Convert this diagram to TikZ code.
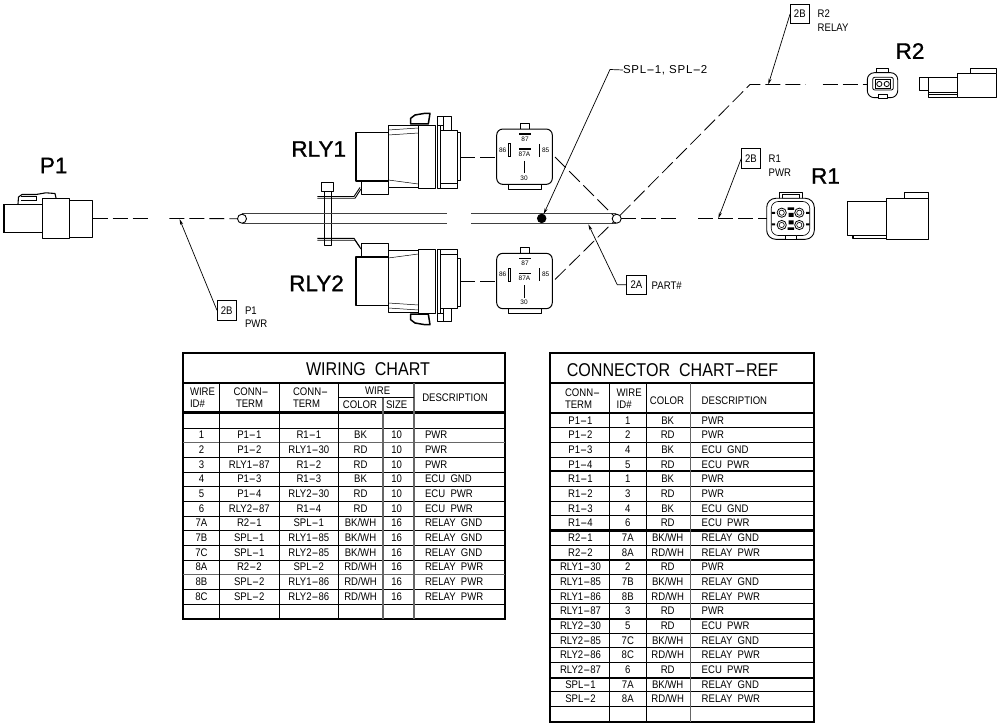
\documentclass[tikz,border=0pt]{standalone}
\usepackage{fontspec}
\usepackage{graphicx}
\setmainfont{Liberation Sans}
\newfontfamily\chartfont[FakeStretch=0.87]{Liberation Sans}
\newfontfamily\bigfont[FakeBold=1]{Liberation Sans}
\newfontfamily\splfont[LetterSpace=7]{Liberation Sans}
\usetikzlibrary{arrows.meta}
\newcommand{\fs}[1]{\fontsize{#1pt}{#1pt}\selectfont}
\newcommand{\hy}{\scalebox{2.2}[1]{-}}
\tikzset{
  every node/.style={inner sep=0pt,outer sep=0pt},
  part/.style={draw=black,line width=0.9pt,fill=white,line join=round},
  thin part/.style={draw=black,line width=0.5pt},
  wire/.style={draw=black,line width=0.8pt,dash pattern=on 15pt off 5pt},
  harness/.style={draw=black!75,line width=1pt},
  leader/.style={draw=black,line width=0.7pt,-{Stealth[length=6pt,width=3pt]}},
  tagbox/.style={draw=black,line width=0.9pt,minimum width=19.5pt,minimum height=19.5pt,font=\chartfont\fs{11}},
  tagtext/.style={anchor=west,font=\chartfont\fs{11}},
  bigname/.style={font=\bigfont\fs{22.5}},
  pinlabel/.style={font=\fs{6.5}},
  cell/.style={font=\chartfont\fs{11},text height=7.9pt,text depth=0pt},
  celll/.style={anchor=west,font=\chartfont\fs{11},text height=7.9pt,text depth=0pt},
  title/.style={font=\chartfont\fs{18.5}},
  gridline/.style={draw=black,line width=0.8pt},
  graygrid/.style={draw=black!60,line width=1.4pt},
  heavy/.style={draw=black,line width=2.4pt},
  frame/.style={draw=black,line width=2.8pt}
}
\newcommand{\relayconn}{%
  \draw[part] (443,116.7) rectangle (451.7,130);
  \draw[part] (437.3,116.7) rectangle (443,125);
  \draw[part,fill=white,line width=1.5pt] (410.7,118.3) -- (410.7,124) -- (428.3,124) -- (430,113.3) -- (425,113.3) -- (415,115) -- cycle;
  \draw[part] (361.7,179) rectangle (388.3,194.3);
  \draw[part,line width=1.2pt] (356,132.3) rectangle (388.3,181);
  \draw[part] (388.3,125.7) rectangle (418.3,187.7);
  \draw[thin part] (388.3,130) -- (418.3,128);
  \draw[thin part] (388.3,135) -- (418.3,133);
  \draw[thin part] (388.3,180) -- (418.3,184);
  \draw[part] (418.3,125) rectangle (435.7,188.3);
  \draw[part] (437.3,125) rectangle (440.7,188.3);
  \draw[part] (440.7,130) rectangle (457.7,188.3);
  \draw[thin part] (440.7,183.5) -- (457.7,183.5);
  \draw[part] (457.7,132) rectangle (460,180);
}
\newcommand{\relaybox}[2]{%
  \begin{scope}[yshift=#1]
  \draw[part] (520.7,123.3) rectangle (529.3,129);
  \draw[part] (508.3,184.3) rectangle (541.7,189.3);
  \node[part,line width=1pt,rounded corners=6pt,minimum width=55.6pt,minimum height=55.3pt] (#2) at (524.5,156.7) {};
  \draw[line width=1.6pt] (519,134.3) -- (530.7,134.3);
  \draw[line width=1.6pt] (519,149.3) -- (530.7,149.3);
  \draw[line width=1.6pt] (524.3,161) -- (524.3,173.3);
  \draw[line width=1pt] (508.5,144) rectangle (510,156.7);
  \draw[line width=1.6pt] (539.3,144) -- (539.3,156.7);
  \node[pinlabel] at (525,139.3) {87};
  \node[pinlabel] at (524.5,154.3) {87A};
  \node[pinlabel] at (524,178.3) {30};
  \node[pinlabel] at (502.7,150.3) {86};
  \node[pinlabel] at (545.7,150.3) {85};
  \end{scope}
}
\begin{document}
\begin{tikzpicture}[x=1pt,y=-1pt]
\useasboundingbox (0,0) rectangle (1000,727);
\fill[white] (0,0) rectangle (1000,727);

% ---- named wire points
\coordinate (p1end) at (92.5,218.5);
\coordinate (p1a) at (151.7,218.5);
\coordinate (p1b) at (169.3,218.5);
\coordinate (r1a) at (681,218.7);
\coordinate (r1b) at (698.3,218.7);
\coordinate (bend) at (750,84.5);
\coordinate (r2a) at (805.7,84.5);
\coordinate (r2b) at (822.7,84.5);
\coordinate (rly1e) at (555,157);
\coordinate (rly2e) at (555,279.5);

% ---- harness
\draw[harness] (242,214) -- (446.7,214) (242,223.3) -- (446.7,223.3);
\draw[harness] (471.3,214) -- (616,214) (471.3,223.3) -- (616,223.3);

% ---- dashed wires
\node[draw=black,line width=0.9pt,fill=white,circle,minimum size=9pt] (endL) at (242,218.7) {};
\node[draw=black,line width=0.9pt,circle,minimum size=9pt] (endR) at (616.7,218.7) {};
\draw[wire] (p1end) -- (p1a);
\draw[wire] (p1b) -- (endL);
\draw[wire] (endR) -- (r1a);

% ---- P1 connector
\draw[part,line width=1.1pt,fill=none] (18,204) -- (18.5,197) -- (22,194.5) -- (36,194.5) -- (46,192.8) -- (55,193.5) -- (56,198);
\draw[thin part] (21,200) -- (36,200) -- (36,196) -- (21,196);
\draw[part] (42,204.3) -- (4,204.3) -- (4,232.7) -- (42,232.7);
\draw[line width=1.4pt] (4,204.3) -- (4,232.7);
\draw[part] (69.7,200.3) rectangle (92.5,237.3);
\draw[part] (42.3,198.3) rectangle (69.7,238.7);
\node[bigname] (P1) at (53.7,165.5) {P1};

% ---- clamp
\draw[part] (324.3,186.7) rectangle (331.7,245.7);
\draw[part] (321.7,182) rectangle (333.7,191);
\draw[part,fill=none] (317.3,196.5) -- (354,196.5) -- (360,187.5);
\draw[part,fill=none] (317.3,198.3) -- (355,198.3) -- (361,189);
\draw[part,fill=none] (317.3,238.3) -- (354,238.3) -- (360,247.3);
\draw[part,fill=none] (317.3,240.2) -- (355,240.2) -- (361,249);
\draw[harness] (324.3,214) -- (331.7,214) (324.3,223.3) -- (331.7,223.3);

% ---- relay connectors
\relayconn
\begin{scope}[shift={(0,438)},yscale=-1]
\relayconn
\end{scope}
\node[bigname] (RLY1) at (318.7,149) {RLY1};
\node[bigname] (RLY2) at (316.5,283.3) {RLY2};

% ---- relays
\relaybox{0pt}{relayA}
\relaybox{-124.3pt}{relayB}

% ---- relay wires
\coordinate (c1) at (460,157.3);
\coordinate (c2) at (460,281.7);
\draw[wire] (c1) -- (relayA.west |- c1);
\draw[wire] (c2) -- (relayB.west |- c2);
\draw[wire] (rly1e) -- (endR);
\draw[wire] (rly2e) -- (endR);
\draw[wire] (endR) -- (bend) -- (r2a);

% ---- splice
\node[fill=black,circle,minimum size=9.5pt] (splice) at (541.7,218.4) {};

% ---- R1 face
\draw[part] (779,192.3) rectangle (802.7,199);
\draw[thin part] (782,194.5) rectangle (799.7,198);
\node[part,rounded corners=9pt,minimum width=47.6pt,minimum height=41pt] (r1face) at (790.5,218.8) {};
\node[draw=black,line width=0.6pt,rounded corners=7pt,minimum width=38.5pt,minimum height=34pt] at (790.5,218.5) {};
\draw[part] (785,235) rectangle (796.7,239.3);
\foreach \cx/\cy in {781.7/212.7,799.3/212.7,781.7/225,799.3/225}{
  \draw[line width=0.8pt] (\cx,\cy) circle[radius=4.6pt];
  \draw[line width=0.6pt] (\cx,\cy) circle[radius=2.6pt];
}
\fill[black] (787.5,207.5) rectangle (794,210) (788.5,213) rectangle (793.5,217) (788.5,220.5) rectangle (793.5,224.5) (787.5,227.5) rectangle (794,230);
\fill[black] (771.5,212) rectangle (775,214) (771.5,223.5) rectangle (775,225.5) (806,212) rectangle (809.5,214) (806,223.5) rectangle (809.5,225.5);
\draw[wire] (r1b) -- (r1face.west |- r1b);

% ---- R1 side view
\draw[part,line width=1.2pt] (853,235) -- (853,238.5) -- (886.7,238.5);
\draw[part] (847.5,201.7) rectangle (886.7,235);
\draw[line width=1.2pt] (847.5,201.7) -- (847.5,235);
\draw[part] (904,192.3) rectangle (928.3,198.3);
\draw[part] (886.7,198.3) rectangle (928.3,239.3);
\draw[line width=1.3pt] (928.3,198.3) -- (928.3,239.3);
\node[bigname] (R1) at (825.5,176) {R1};

% ---- R2 face
\draw[part] (876.7,68.3) rectangle (888.3,74);
\node[part,rounded corners=7pt,minimum width=30.4pt,minimum height=25pt] (r2face) at (882.5,85.2) {};
\draw[line width=0.8pt,rounded corners=2pt] (872.7,77.3) rectangle (893.3,90);
\draw[line width=0.6pt] (875.5,79.5) rectangle (890.5,88);
\draw[line width=0.8pt] (879.3,84) circle[radius=2.6pt] (886.7,84) circle[radius=2.6pt];
\draw[part] (878.3,94.3) rectangle (887,98.3);
\draw[wire] (r2b) -- (r2face.west |- r2b);

% ---- R2 side view
\draw[part] (919.3,77.3) rectangle (928.3,90);
\draw[part] (928.3,77.3) rectangle (957.3,97.3);
\draw[thin part] (928.3,92) -- (957.3,92) (928.3,94.5) -- (957.3,94.5);
\draw[part] (970.7,68.3) rectangle (996.7,74);
\draw[part] (957.3,73.3) rectangle (996.7,97.7);
\node[bigname] (R2) at (910,51) {R2};

% ---- tags & leaders
\node[tagbox] (t1) at (226.7,310.2) {2B};
\node[tagtext] at (245,310.3) {P1};
\node[tagtext] at (245,324) {PWR};
\coordinate (t1tip) at (179.5,219);
\draw[leader] (t1.west) -- (t1tip);

\node[tagbox] (t2) at (636.4,284.8) {2A};
\node[tagtext] at (651.7,286) {PART\#};
\coordinate (t2tip) at (588.3,224.3);
\draw[leader] (t2.west) -- (617.3,284.8) -- (t2tip);

\node[tagbox] (t3) at (751,158.5) {2B};
\node[tagtext] at (768.7,158.7) {R1};
\node[tagtext] at (768.7,172.7) {PWR};
\coordinate (t3tip) at (718.3,218.3);
\draw[leader] (t3.west) -- (t3tip);

\node[tagbox] (t4) at (799.8,14) {2B};
\node[tagtext] at (817.7,14) {R2};
\node[tagtext] at (817.7,28) {RELAY};
\coordinate (t4tip) at (768.3,84.5);
\draw[leader] (t4.west) -- (t4tip);

\node[anchor=west,font=\splfont\fs{11.5}] (spl) at (623,70) {SPL\hy1, SPL\hy2};
\draw[leader] (spl.west) -- (610,69.5) -- (splice);

% ======== WIRING CHART
\draw[frame] (183,353) rectangle (505,619);
\node[title] at (368,369) {WIRING\ \ CHART};
\draw[heavy] (183,383) -- (505,383);
\draw[heavy] (183,412.5) -- (505,412.5);
\foreach \yy in {428,442.7,457.3,472,486.7,501.3,516,530.7,545.3,560,574.7,589.3,604}
  \draw[gridline] (183,\yy) -- (505,\yy);
\draw[graygrid] (183,442.7) -- (505,442.7);
\draw[graygrid] (183,574.7) -- (505,574.7);
\draw[gridline] (219.3,383) -- (219.3,619) (279.3,383) -- (279.3,619) (338.3,383) -- (338.3,619);
\draw[graygrid] (383,397) -- (383,619) (414,383) -- (414,619);
\draw[gridline] (338.3,397) -- (414,397);
\node[celll] at (190,391.7) {WIRE};
\node[celll] at (190,404) {ID\#};
\node[celll] at (233.5,391.7) {CONN\hy};
\node[celll] at (236,404) {TERM};
\node[celll] at (293,391.7) {CONN\hy};
\node[celll] at (293,404) {TERM};
\node[cell] at (377.7,391) {WIRE};
\node[cell] at (360,405) {COLOR};
\node[cell] at (396.7,405) {SIZE};
\node[cell] at (455,398) {DESCRIPTION};
\foreach \n/\a/\b/\c/\d/\e [count=\i from 0] in {
 1/P1\hy1/R1\hy1/BK/10/PWR,
 2/P1\hy2/RLY1\hy30/RD/10/PWR,
 3/RLY1\hy87/R1\hy2/RD/10/PWR,
 4/P1\hy3/R1\hy3/BK/10/ECU\ \ GND,
 5/P1\hy4/RLY2\hy30/RD/10/ECU\ \ PWR,
 6/RLY2\hy87/R1\hy4/RD/10/ECU\ \ PWR,
 7A/R2\hy1/SPL\hy1/BK\slash WH/16/RELAY\ \ GND,
 7B/SPL\hy1/RLY1\hy85/BK\slash WH/16/RELAY\ \ GND,
 7C/SPL\hy1/RLY2\hy85/BK\slash WH/16/RELAY\ \ GND,
 8A/R2\hy2/SPL\hy2/RD\slash WH/16/RELAY\ \ PWR,
 8B/SPL\hy2/RLY1\hy86/RD\slash WH/16/RELAY\ \ PWR,
 8C/SPL\hy2/RLY2\hy86/RD\slash WH/16/RELAY\ \ PWR}{
  \pgfmathsetmacro{\yy}{434.8+14.67*\i}
  \node[cell] at (201.5,\yy) {\n};
  \node[cell] at (249.3,\yy) {\a};
  \node[cell] at (308.8,\yy) {\b};
  \node[cell] at (360.5,\yy) {\c};
  \node[cell] at (396.7,\yy) {\d};
  \node[celll] at (425,\yy) {\e};
}

% ======== CONNECTOR CHART
\draw[frame] (550,353) rectangle (814,722);
\node[title] at (672.5,370) {CONNECTOR\ \ CHART\hy REF};
\draw[heavy] (550,383) -- (814,383);
\draw[heavy] (550,413) -- (814,413);
\foreach \yy in {427.7,442.3,457,471.7,486.3,501,515.7,530.3,545,559.7,574.3,589,603.7,618.3,633,647.7,662.3,677,691.7,706.3}
  \draw[gridline] (550,\yy) -- (814,\yy);
\foreach \yy in {471.2,530.5,560,618.7,677.7}
  \draw[heavy] (550,\yy) -- (814,\yy);
\draw[gridline] (609.3,383) -- (609.3,722) (646.3,383) -- (646.3,722);
\draw[graygrid] (690.7,383) -- (690.7,722);
\node[celll] at (565,393) {CONN\hy};
\node[celll] at (565,404.5) {TERM};
\node[celll] at (616.7,392.7) {WIRE};
\node[celll] at (616.7,405) {ID\#};
\node[cell] at (667,401) {COLOR};
\node[celll] at (701.7,401) {DESCRIPTION};
\foreach \a/\n/\c/\e [count=\i from 0] in {
 P1\hy1/1/BK/PWR,
 P1\hy2/2/RD/PWR,
 P1\hy3/4/BK/ECU\ \ GND,
 P1\hy4/5/RD/ECU\ \ PWR,
 R1\hy1/1/BK/PWR,
 R1\hy2/3/RD/PWR,
 R1\hy3/4/BK/ECU\ \ GND,
 R1\hy4/6/RD/ECU\ \ PWR,
 R2\hy1/7A/BK\slash WH/RELAY\ \ GND,
 R2\hy2/8A/RD\slash WH/RELAY\ \ PWR,
 RLY1\hy30/2/RD/PWR,
 RLY1\hy85/7B/BK\slash WH/RELAY\ \ GND,
 RLY1\hy86/8B/RD\slash WH/RELAY\ \ PWR,
 RLY1\hy87/3/RD/PWR,
 RLY2\hy30/5/RD/ECU\ \ PWR,
 RLY2\hy85/7C/BK\slash WH/RELAY\ \ GND,
 RLY2\hy86/8C/RD\slash WH/RELAY\ \ PWR,
 RLY2\hy87/6/RD/ECU\ \ PWR,
 SPL\hy1/7A/BK\slash WH/RELAY\ \ GND,
 SPL\hy2/8A/RD\slash WH/RELAY\ \ PWR}{
  \pgfmathsetmacro{\yy}{420.2+14.67*\i}
  \node[cell] at (580.5,\yy) {\a};
  \node[cell] at (627.8,\yy) {\n};
  \node[cell] at (667.7,\yy) {\c};
  \node[celll] at (701.7,\yy) {\e};
}
\end{tikzpicture}
\end{document}
